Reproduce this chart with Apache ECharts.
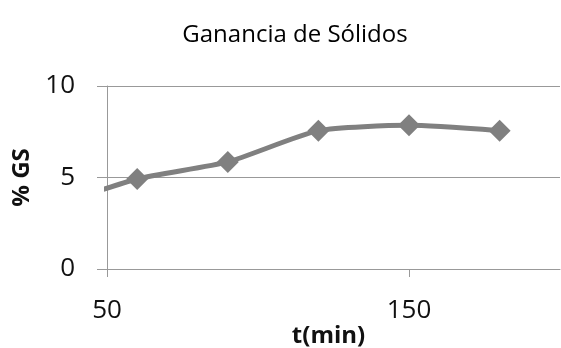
<!DOCTYPE html>
<html><head><meta charset="utf-8">
<script src="https://cdn.jsdelivr.net/npm/echarts@6/dist/echarts.min.js"></script>
<style>html,body{margin:0;padding:0;background:#fff}#c{width:561px;height:348px}</style>
</head><body><div id="c"></div>
<script>
const times = [30, 60, 90, 120, 150, 180];
const gs = [3.3, 4.92, 5.85, 7.56, 7.85, 7.56];
const titleText = 'Ganancia de Sólidos';
const xName = 't(min)';
const yName = '% GS';

const chart = echarts.init(document.getElementById('c'), null, {renderer: 'canvas'});
const FONT = 'Open Sans';
chart.setOption({
  animation: false,
  title: {text: titleText, left: 290, top: 18, textAlign: 'center',
    textStyle: {fontFamily: FONT, fontSize: 24, fontWeight: 'normal', color: '#000'}},
  grid: {left: 107, right: 1, top: 86, bottom: 79, containLabel: false, outerBoundsMode: 'none'},
  xAxis: {type: 'value', min: 50, max: 200, interval: 100,
    name: xName, nameLocation: 'middle', nameGap: 55, nameMoveOverlap: false,
    nameTextStyle: {fontFamily: FONT, fontSize: 24, fontWeight: 'bold', color: '#111', padding: [0, 10, 0, 0]},
    axisLine: {show: true, onZero: false, lineStyle: {color: '#999', width: 1}},
    axisTick: {show: true, length: 8, lineStyle: {color: '#999'}},
    axisLabel: {fontFamily: FONT, fontSize: 26, color: '#111', margin: 29, showMaxLabel: false},
    splitLine: {show: false}},
  yAxis: {type: 'value', min: 0, max: 10, interval: 5,
    name: yName, nameLocation: 'middle', nameGap: 73, nameMoveOverlap: false,
    nameTextStyle: {fontFamily: FONT, fontSize: 24, fontWeight: 'bold', color: '#111'},
    axisLine: {show: true, lineStyle: {color: '#999', width: 1}},
    axisTick: {show: true, length: 10, lineStyle: {color: '#999'}},
    axisLabel: {fontFamily: FONT, fontSize: 26, color: '#111', margin: 32},
    splitLine: {show: true, lineStyle: {color: '#999', width: 1}}},
  series: [{type: 'line', data: times.map((t, i) => [t, gs[i]]),
    smooth: 0.2, clip: true,
    symbol: 'diamond', symbolSize: 22,
    lineStyle: {color: '#808080', width: 5},
    itemStyle: {color: '#808080'}}]
});
</script></body></html>
